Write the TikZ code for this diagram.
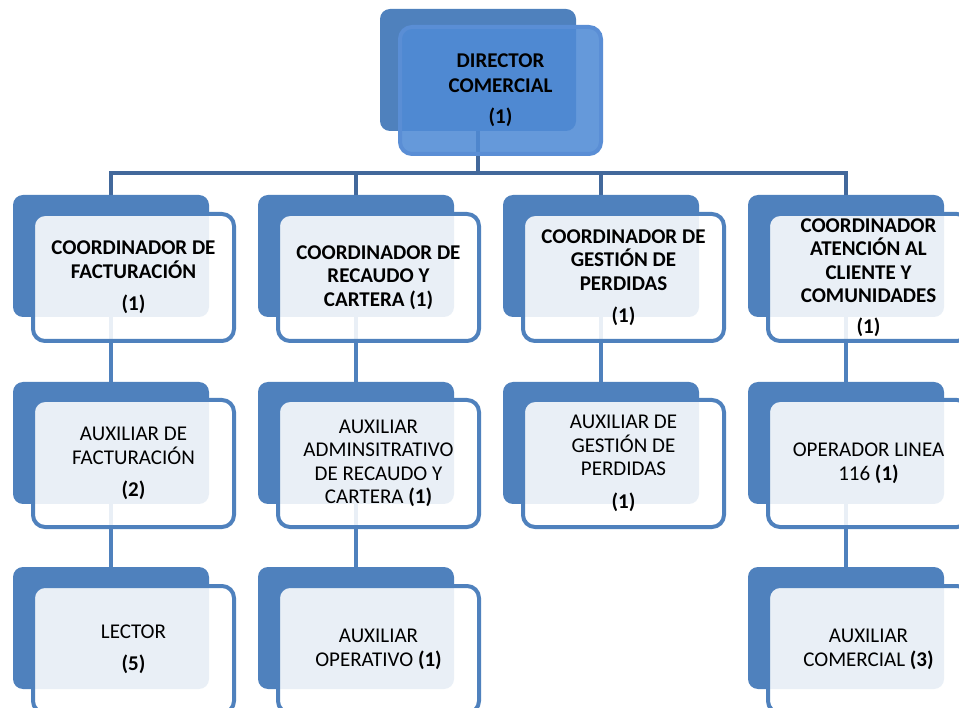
\documentclass[tikz,border=0pt]{standalone}
\usepackage{fontspec}
\setmainfont{Carlito}
\usepackage{tikz}
\usetikzlibrary{backgrounds}
\definecolor{boxblue}{RGB}{79,129,189}
\definecolor{linkblue}{RGB}{66,104,155}
\definecolor{topfill}{RGB}{80,139,213}
\definecolor{topedge}{RGB}{90,142,213}

\begin{document}
\begin{tikzpicture}[x=1pt,y=-1pt,
                back node/.style={rectangle,rounded corners=10pt,fill=boxblue,inner sep=0pt,outer sep=0pt,
                    minimum width=196pt,minimum height=122pt,anchor=north west},
                text node/.style={rectangle,rounded corners=12pt,draw=boxblue,line width=4pt,fill=white,
                    fill opacity=0.88,text opacity=1,minimum width=201pt,minimum height=127pt,
                    align=center,inner sep=0pt,anchor=north west,font=\fontsize{21}{23.5}\selectfont},
                head node/.style={text node,draw=topedge,fill=topfill,font=\fontsize{21}{25}\selectfont\bfseries},
                boss node/.style={text node,font=\fontsize{21}{23.5}\selectfont\bfseries},
                link/.style={draw=boxblue,line width=4.5pt},
                top link/.style={draw=linkblue,line width=4.5pt},
                ]
                \useasboundingbox (0,0) rectangle (959,708);
                \clip (0,0) rectangle (959,708);

                \node[back node] (0) at (380,9) {};
                \node[back node] (1) at (13,195) {};
                \node[back node] (2) at (258,195) {};
                \node[back node] (3) at (503,195) {};
                \node[back node] (4) at (748,195) {};
                \node[back node] (11) at (13,382) {};
                \node[back node] (21) at (258,382) {};
                \node[back node] (31) at (503,382) {};
                \node[back node] (41) at (748,382) {};
                \node[back node] (12) at (13,567) {};
                \node[back node] (22) at (258,567) {};
                \node[back node] (42) at (748,567) {};

                \node[head node] (0t) at (398,25) {DIRECTOR\\COMERCIAL\\[6pt](1)};
                \node[boss node] (1t) at (31,212) {COORDINADOR DE\\FACTURACIÓN\\[9pt](1)};
                \node[boss node] (2t) at (276,212) {COORDINADOR DE\\RECAUDO Y\\CARTERA (1)};
                \node[boss node] (3t) at (521,212) {COORDINADOR DE\\GESTIÓN DE\\PERDIDAS\\[9pt](1)};
                \node[boss node] (4t) at (766,212) {COORDINADOR\\ATENCIÓN AL\\CLIENTE Y\\COMUNIDADES\\[7pt](1)};
                \node[text node] (11t) at (31,398) {AUXILIAR DE\\FACTURACIÓN\\[9pt]\textbf{(2)}};
                \node[text node] (21t) at (276,398) {AUXILIAR\\ADMINSITRATIVO\\DE RECAUDO Y\\CARTERA \textbf{(1)}};
                \node[text node] (31t) at (521,398) {AUXILIAR DE\\GESTIÓN DE\\PERDIDAS\\[9pt]\textbf{(1)}};
                \node[text node] (41t) at (766,398) {OPERADOR LINEA\\116 \textbf{(1)}};
                \node[text node] (12t) at (31,584) {LECTOR\\[9pt]\textbf{(5)}};
                \node[text node] (22t) at (276,584) {AUXILIAR\\OPERATIVO \textbf{(1)}};
                \node[text node] (42t) at (766,584) {AUXILIAR\\COMERCIAL \textbf{(3)}};

                \begin{scope}[on background layer]
                \fill[white] (0,0) rectangle (959,708);
                \draw[top link] (0.south) -- ++(0,42) -| (1.north);
                \draw[top link] (0.south) -- ++(0,42) -| (2.north);
                \draw[top link] (0.south) -- ++(0,42) -| (3.north);
                \draw[top link] (0.south) -- ++(0,42) -| (4.north);
                \draw[link] (1.south) -- (11.north);
                \draw[link] (11.south) -- (12.north);
                \draw[link] (2.south) -- (21.north);
                \draw[link] (21.south) -- (22.north);
                \draw[link] (3.south) -- (31.north);
                \draw[link] (4.south) -- (41.north);
                \draw[link] (41.south) -- (42.north);
                \end{scope}
            \end{tikzpicture}
\end{document}
